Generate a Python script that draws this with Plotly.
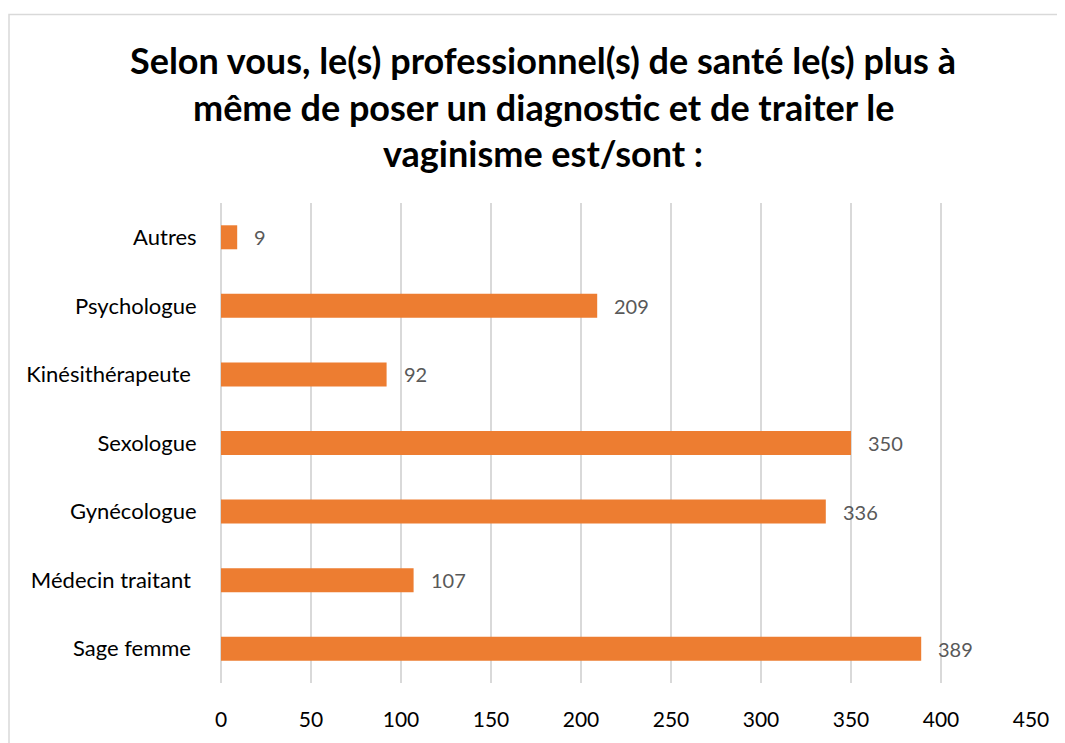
import plotly.graph_objects as go

categories = ["Sage femme\u00a0", "Médecin traitant\u00a0", "Gynécologue", "Sexologue",
              "Kinésithérapeute\u00a0", "Psychologue", "Autres"]
values = [389, 107, 336, 350, 92, 209, 9]
x_ticks = [0, 50, 100, 150, 200, 250, 300, 350, 400, 450]
title_lines = ["Selon vous, le(s) professionnel(s) de santé le(s) plus à",
               "même de poser un diagnostic et de traiter le",
               "vaginisme est/sont :"]

orange = "#ED7D31"
grid = "#D9D9D9"
font = "Lato"

# page body adds an 8px offset, so work in figure pixels = target - 8
off = 8
W, H = 1065 - off, 743 - off
L, T = 221 - off, 203 - off
R, B = W - (1031 - off), H - (687 - off)
pw, ph = W - L - R, H - T - B

fig = go.Figure()
fig.add_trace(go.Bar(
    y=categories, x=values, orientation="h",
    marker=dict(color=orange, line=dict(width=0)),
    width=0.35, hoverinfo="x+y"))

# value labels just to the right of each bar
for c, v in zip(categories, values):
    fig.add_annotation(x=v, y=c, text=str(v), showarrow=False,
                       xanchor="left", xshift=15,
                       font=dict(family=font, size=20, color="#595959"))

# three title lines
for i, line in enumerate(title_lines):
    ypx = 59 - off + i * 47
    fig.add_annotation(xref="paper", yref="paper",
                       x=(543 - off - L) / pw, y=(H - B - ypx) / ph,
                       text="<b>" + line + "</b>", showarrow=False,
                       xanchor="center", yanchor="middle",
                       font=dict(family=font, size=36, color="black"))

# chart border
fig.add_shape(type="rect", xref="paper", yref="paper",
              x0=(9 - off - L) / pw, x1=1.2, y0=-0.3, y1=(H - B - (13 - off)) / ph,
              line=dict(color=grid, width=1.5), fillcolor="rgba(0,0,0,0)")

fig.update_layout(
    width=W, height=H,
    margin=dict(l=L, r=R, t=T, b=B),
    paper_bgcolor="white", plot_bgcolor="white",
    showlegend=False,
    xaxis=dict(range=[0, 450], tickvals=x_ticks, showgrid=True,
               gridcolor=grid, gridwidth=1.5, zeroline=True,
               zerolinecolor=grid, zerolinewidth=1.5,
               ticks="outside", ticklen=18, tickcolor="white",
               tickfont=dict(family=font, size=21, color="black"),
               showline=False, fixedrange=True),
    yaxis=dict(showgrid=False, zeroline=False, showline=False,
               ticks="outside", ticklen=19, tickcolor="white",
               tickfont=dict(family=font, size=22, color="black"),
               fixedrange=True),
)

fig.write_html("out.html")
